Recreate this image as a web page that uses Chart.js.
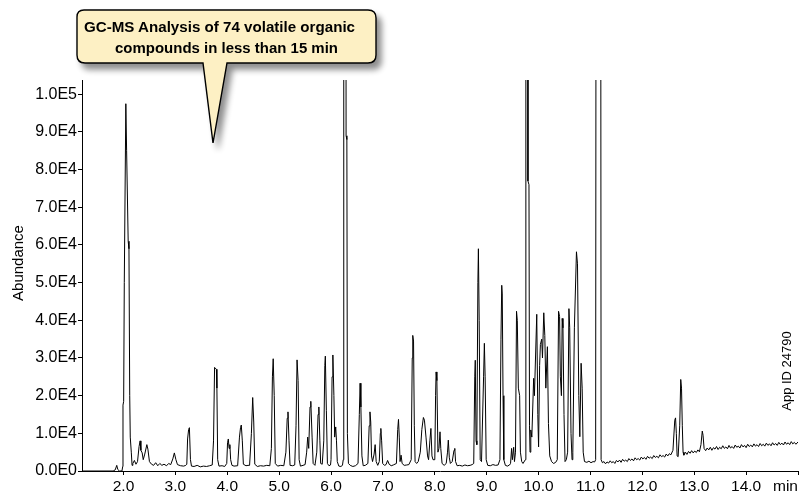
<!DOCTYPE html>
<html>
<head>
<meta charset="utf-8">
<script src="https://cdn.jsdelivr.net/npm/chart.js@4.4.1/dist/chart.umd.min.js"></script>
<style>
  html, body { margin: 0; padding: 0; background: #fff; }
  #wrap { position: relative; width: 800px; height: 494px; overflow: hidden; font-family: "Liberation Sans", Arial, Helvetica, sans-serif; color: #000; }
  #chart { position: absolute; left: 0; top: 0; }
  .vlabel { position: absolute; text-align: center; transform: rotate(-90deg); white-space: nowrap; }
  #ytitle { left: -42px; top: 255px; width: 120px; height: 16px; line-height: 16px; font-size: 15px; }
  #appid { left: 737px; top: 363px; width: 100px; height: 16px; line-height: 16px; font-size: 13px; }
  #unit { position: absolute; right: 2px; top: 478px; font-size: 15.5px; line-height: 15px; }
  #callout { position: absolute; left: 0; top: 0; }
</style>
</head>
<body>
<div id="wrap">
  <canvas id="chart" width="800" height="494"></canvas>
  <div id="ytitle" class="vlabel">Abundance</div>
  <div id="appid" class="vlabel">App ID 24790</div>
  <div id="unit">min</div>
  <svg id="callout" width="800" height="494" viewBox="0 0 800 494">
    <defs>
      <filter id="sh" x="-10%" y="-20%" width="130%" height="160%">
        <feGaussianBlur in="SourceAlpha" stdDeviation="3"/>
        <feOffset dx="5" dy="6" result="ob"/>
        <feComponentTransfer><feFuncA type="linear" slope="0.45"/></feComponentTransfer>
        <feMerge><feMergeNode/><feMergeNode in="SourceGraphic"/></feMerge>
      </filter>
    </defs>
    <path d="M 84 10 H 368 Q 376 10 376 18 V 55 Q 376 63 368 63 H 227 L 213 143 L 203 63 H 85 Q 77 63 77 55 V 17 Q 77 10 84 10 Z"
          fill="#FDF0C4" stroke="#000" stroke-width="1.4" filter="url(#sh)"/>
    <text x="84" y="31.7" font-family="'Liberation Sans Narrow','Liberation Sans',Arial,sans-serif" font-weight="bold" font-size="15.5" textLength="271" lengthAdjust="spacingAndGlyphs">GC-MS Analysis of 74 volatile organic</text>
    <text x="115" y="53" font-family="'Liberation Sans Narrow','Liberation Sans',Arial,sans-serif" font-weight="bold" font-size="15.5" textLength="223" lengthAdjust="spacingAndGlyphs">compounds in less than 15 min</text>
  </svg>
</div>
<script>
// Retention time (min)
const timeMin = [
  1.20,1.80,1.84,1.87,1.89,1.92,1.97,1.985,1.99,2.003,2.015,2.045,2.06,2.09,2.105,2.12,2.13,2.15,2.165,
  2.18,2.21,2.24,2.27,2.30,2.32,2.335,2.36,2.38,2.41,2.45,2.47,2.50,2.54,2.58,2.62,2.66,2.70,2.74,2.78,2.83,2.87,2.91,2.95,2.98,3.01,3.04,3.10,3.16,3.20,
  3.22,3.235,3.255,3.27,3.29,3.31,3.36,3.42,3.48,3.54,3.60,3.66,3.71,3.735,3.755,3.79,3.80,3.815,3.84,3.90,3.95,
  3.99,4.005,4.02,4.035,4.05,4.065,4.09,4.13,4.20,4.235,4.255,4.27,4.29,4.31,4.36,4.40,
  4.43,4.465,4.49,4.51,4.53,4.58,4.64,4.70,4.76,4.82,4.85,4.87,4.885,4.905,4.925,4.97,5.03,5.09,
  5.13,5.155,5.17,5.19,5.21,5.26,5.30,5.325,5.345,5.365,5.385,5.41,5.46,5.50,
  5.53,5.55,5.57,5.595,5.61,5.635,5.655,5.69,5.725,5.75,5.765,5.785,5.80,5.83,5.86,5.88,5.89,5.91,5.93,5.96,5.99,
  6.00,6.02,6.035,6.055,6.07,6.09,6.105,6.12,6.15,6.19,6.22,6.235,6.245,6.285,6.29,6.305,6.315,6.335,6.37,6.42,6.47,
  6.52,6.545,6.56,6.575,6.595,6.62,6.66,6.71,6.735,6.75,6.765,6.78,6.80,6.83,6.85,6.87,6.90,
  6.93,6.95,6.96,6.975,6.995,7.03,7.06,7.09,7.12,7.16,7.20,7.26,7.285,7.30,7.315,7.33,7.35,7.37,7.41,7.46,7.50,
  7.545,7.565,7.575,7.59,7.605,7.62,7.65,7.68,7.72,7.75,7.78,7.80,7.83,7.86,7.88,7.905,7.925,7.945,7.965,
  8.00,8.015,8.025,8.04,8.06,8.08,8.10,8.115,8.14,8.18,8.22,8.245,8.26,8.28,8.30,8.335,8.37,8.385,8.40,8.43,8.48,8.53,8.58,8.63,8.68,8.72,
  8.75,8.77,8.78,8.795,8.81,8.83,8.84,8.855,8.875,8.90,8.94,8.955,8.97,8.99,9.02,9.07,9.12,9.17,9.22,
  9.255,9.275,9.29,9.30,9.315,9.33,9.36,9.40,9.44,9.46,9.48,9.495,9.52,9.535,9.555,9.575,9.59,9.61,9.635,9.65,9.675,9.70,
  9.745,9.755,9.79,9.795,9.815,9.825,9.835,9.85,9.87,9.905,9.92,9.965,9.985,10.00,10.02,10.035,10.06,10.075,10.10,10.12,10.14,10.17,10.19,10.215,10.25,10.29,10.33,
  10.36,10.385,10.405,10.42,10.44,10.455,10.47,10.49,10.51,10.535,10.56,10.585,10.60,10.625,10.645,10.66,10.69,10.73,10.75,10.775,10.795,10.82,10.84,10.86,10.885,10.93,10.97,11.01,11.05,11.08,
  11.10,11.11,11.195,11.205,11.23,
  11.26,11.29,11.32,11.35,11.38,11.41,11.44,11.47,11.50,11.53,11.56,11.59,11.62,11.65,11.68,11.71,11.74,11.77,11.80,11.83,11.86,11.89,11.92,11.95,11.98,
  12.01,12.04,12.07,12.10,12.13,12.16,12.19,12.22,12.25,12.28,12.31,12.34,12.37,12.40,12.43,12.46,12.49,12.52,12.55,
  12.59,12.625,12.64,12.655,12.67,12.69,12.72,12.74,12.755,12.77,12.785,12.80,
  12.83,12.86,12.89,12.92,12.95,12.98,13.01,13.04,13.07,13.10,13.13,13.155,13.17,13.19,
  13.22,13.25,13.28,13.31,13.34,13.37,13.40,13.43,13.46,13.49,13.52,13.55,13.58,13.61,13.64,13.67,13.70,13.73,13.76,13.79,13.82,13.85,13.88,13.91,13.94,13.97,
  14.00,14.03,14.06,14.09,14.12,14.15,14.18,14.21,14.24,14.27,14.30,14.33,14.36,14.39,14.42,14.45,14.48,14.51,14.54,14.57,14.60,14.63,14.66,14.69,14.72,14.75,14.78,14.81,14.84,14.87,14.90,14.93,14.96,15.00
];
// Abundance (counts)
const abundance = [
  0,0,300,1500,400,0,0,1200,17500,18500,50000,97500,85000,61000,59000,20000,9000,5000,1500,
  2000,2800,1800,2500,6500,8000,5500,4800,3000,4500,7000,5800,2500,1800,1500,2200,1400,2000,1500,1800,1400,2000,1700,3200,4800,3000,1700,1400,1300,1500,
  1800,8500,11000,11500,3000,1300,1200,1500,1100,1300,1200,1400,1600,8000,27500,27000,22000,3000,1300,1400,1200,
  2000,7500,8500,6000,7000,3000,1500,1300,1400,9000,11500,12200,8000,1800,1400,1500,
  1500,10000,19500,13000,1800,1200,1400,1300,1500,1400,6000,25000,29800,20000,2000,1300,1500,1400,
  5000,14000,15700,8000,1500,1400,1600,12000,29500,24000,3000,1300,1500,1700,
  5000,9000,6000,17000,18500,9000,2000,1500,5000,15000,17000,8000,2000,1800,8000,28000,30500,16000,2000,1400,1600,
  3000,25000,30800,20000,9000,11700,8000,2500,1300,1200,1500,3000,200000,200000,89000,88000,10000,2000,1500,1200,1400,
  2000,15000,23300,17000,4000,1400,1500,2000,12000,15700,13000,4000,2500,4500,7000,2500,1500,
  2500,10000,11300,8000,2000,1500,1700,2800,1800,1400,1600,2000,11000,13700,9000,2500,4200,2000,1500,1600,1700,
  3000,30000,36000,34500,12000,2500,2000,2500,5000,11000,14200,13500,9000,4000,3000,8000,11300,4000,3000,
  3000,20000,26300,24000,5000,6000,10400,6000,2000,1500,2000,5000,8200,3500,2000,2500,5500,6000,2500,1400,1500,1300,1600,1400,1500,1700,
  2000,25000,29400,8000,7000,50000,59000,40000,3000,2500,25000,33900,25000,3000,1500,1400,1700,1500,1600,
  3000,35000,49300,47000,20000,3000,1500,1300,1600,2000,6000,3000,6300,2500,5000,42400,40000,22000,20000,5000,2500,2000,
  3000,200000,200000,77000,76000,12000,5000,10900,9000,24600,20000,41600,15000,6400,28000,33600,35000,30000,42000,36000,22000,33000,12600,4000,2500,2000,2300,
  3000,42400,41000,25000,20000,40500,38000,15000,2500,3000,5000,43100,38000,10000,3000,5000,38000,58200,55000,20000,9100,28600,22000,5000,2500,2300,2600,2200,2500,2400,
  3000,200000,200000,3000,2200,
  2500,1900,2400,2100,2700,2200,2500,2000,2800,2400,2900,2300,3100,2600,2900,2500,3300,2800,3200,2700,3500,3000,3300,2900,3700,
  3200,3600,3100,3900,3400,3700,3300,4100,3600,3900,3500,4300,3800,4100,3700,4500,4000,4600,4300,
  5500,13500,14100,10000,4000,3800,12000,24300,22000,12000,5000,4200,
  5000,4400,5200,4700,5400,4800,5300,4900,5600,5100,7000,10600,9500,6000,
  5400,6100,5600,6300,5500,6200,5800,6500,5700,6300,5900,6700,6000,6400,5900,6800,6100,6500,6000,6900,6300,6600,6100,7000,6400,6800,
  6200,7100,6500,6900,6400,7200,6600,7000,6500,7300,6700,7100,6600,7400,6800,7200,6700,7500,6900,7300,6800,7600,7000,7400,6900,7700,7100,7500,7000,7800,7200,7600,7100,7700
];
// Axis ticks
const xTickValues = [2,3,4,5,6,7,8,9,10,11,12,13,14,15];
const xTickLabels = ['2.0','3.0','4.0','5.0','6.0','7.0','8.0','9.0','10.0','11.0','12.0','13.0','14.0',''];
const yTickValues = [0,10000,20000,30000,40000,50000,60000,70000,80000,90000,100000];
const yTickLabels = ['0.0E0','1.0E4','2.0E4','3.0E4','4.0E4','5.0E4','6.0E4','7.0E4','8.0E4','9.0E4','1.0E5'];

const points = timeMin.map((t, i) => ({ x: t, y: abundance[i] }));
const fontFamily = "'Liberation Sans', Arial, Helvetica, sans-serif";

new Chart(document.getElementById('chart'), {
  type: 'line',
  data: { datasets: [{ data: points, borderColor: '#000', borderWidth: 1, pointRadius: 0, tension: 0, fill: false }] },
  options: {
    responsive: false,
    animation: false,
    devicePixelRatio: 1,
    layout: { padding: { left: 0, right: 2, top: 80, bottom: 0 } },
    plugins: { legend: { display: false }, tooltip: { enabled: false }, title: { display: false } },
    scales: {
      x: {
        type: 'linear', min: 1.2, max: 15,
        afterBuildTicks: s => { s.ticks = xTickValues.map(v => ({ value: v })); },
        afterFit: s => { s.height = 23; },
        ticks: { autoSkip: false, maxRotation: 0, minRotation: 0, color: '#000', font: { family: fontFamily, size: 15.5 }, padding: 2,
                 callback: (v, i) => xTickLabels[i] },
        grid: { display: true, drawOnChartArea: false, drawTicks: true, tickLength: 4, color: '#000', lineWidth: 1 },
        border: { display: true, color: '#000', width: 1 }
      },
      y: {
        type: 'linear', min: 0, max: 103800,
        afterBuildTicks: s => { s.ticks = yTickValues.map(v => ({ value: v })); },
        afterFit: s => { s.width = 82; },
        ticks: { autoSkip: false, color: '#000', font: { family: fontFamily, size: 16 }, padding: 1,
                 callback: (v, i) => yTickLabels[i] },
        grid: { display: true, drawOnChartArea: false, drawTicks: true, tickLength: 4, color: '#000', lineWidth: 1 },
        border: { display: true, color: '#000', width: 1 }
      }
    }
  }
});
</script>
</body>
</html>
